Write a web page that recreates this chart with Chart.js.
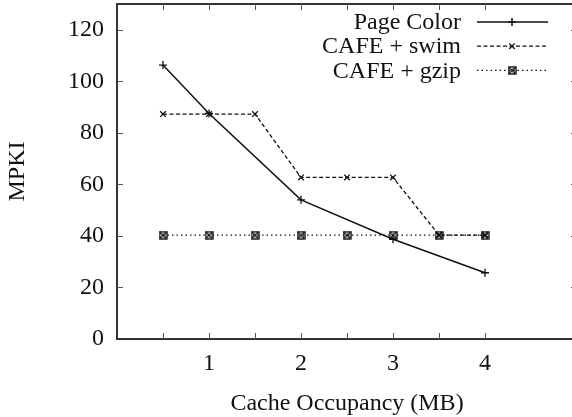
<!DOCTYPE html>
<html>
<head>
<meta charset="utf-8">
<script src="https://cdn.jsdelivr.net/npm/chart.js@4/dist/chart.umd.min.js"></script>
<style>
    html, body { margin: 0; padding: 0; background: #fff; overflow: hidden; }
</style>
</head>
<body>
<canvas id="myChart" width="580" height="417"></canvas>
<script>
// Valeurs (MPKI en fonction de l'occupation du cache)
const occupancy = [0.5, 1, 1.5, 2, 2.5, 3, 3.5, 4];
const pageColorX = [0.5, 1, 2, 3, 4];
const pageColor = [106.3, 87.5, 54.0, 38.7, 25.7];
const cafeSwim = [87.3, 87.3, 87.3, 62.7, 62.7, 62.7, 40.3, 40.3];
const cafeGzip = [40.3, 40.3, 40.3, 40.3, 40.3, 40.3, 40.3, 40.3];
const seriesLabels = ['Page Color', 'CAFE + swim', 'CAFE + gzip'];
const yTicks = [0, 20, 40, 60, 80, 100, 120];
const xTicks = [1, 2, 3, 4];
const xMinorTicks = [0.5, 1, 1.5, 2, 2.5, 3, 3.5, 4];

const FONT = "'Liberation Serif', 'Times New Roman', serif";
const FONT_SIZE = 24;
const INK = '#111';

// Marqueur "carré + croix" pour la série gzip
const boxCross = document.createElement('canvas');
boxCross.width = 9;
boxCross.height = 9;
(() => {
    const c = boxCross.getContext('2d');
    c.strokeStyle = INK;
    c.lineWidth = 1.4;
    c.strokeRect(1, 1, 7, 7);
    c.beginPath();
    c.moveTo(1, 1); c.lineTo(8, 8);
    c.moveTo(8, 1); c.lineTo(1, 8);
    c.stroke();
})();

const toPoints = (xs, ys) => xs.map((x, i) => ({ x: x, y: ys[i] }));

// Cadre, graduations intérieures et légende à la gnuplot
const framePlugin = {
    id: 'frame',
    afterDraw(chart) {
        const { ctx, chartArea: a, scales } = chart;
        ctx.save();
        ctx.strokeStyle = '#333';
        ctx.lineWidth = 2;
        ctx.strokeRect(a.left, a.top, a.right - a.left, a.bottom - a.top);

        ctx.lineWidth = 1;
        ctx.strokeStyle = '#555';
        ctx.beginPath();
        xMinorTicks.forEach(v => {
            const px = Math.round(scales.x.getPixelForValue(v)) + 0.5;
            ctx.moveTo(px, a.bottom); ctx.lineTo(px, a.bottom - 6);
            ctx.moveTo(px, a.top); ctx.lineTo(px, a.top + 6);
        });
        yTicks.slice(1).forEach(v => {
            const py = Math.round(scales.y.getPixelForValue(v)) + 0.5;
            ctx.moveTo(a.left, py); ctx.lineTo(a.left + 6, py);
            ctx.moveTo(a.right, py); ctx.lineTo(a.right - 6, py);
        });
        ctx.stroke();

        // légende : texte aligné à droite, échantillon de trait à droite
        ctx.font = FONT_SIZE + 'px ' + FONT;
        ctx.textAlign = 'right';
        ctx.textBaseline = 'middle';
        chart.data.datasets.forEach((ds, i) => {
            const y = 22 + i * 24.2;
            ctx.fillStyle = INK;
            ctx.fillText(ds.label, 461, y + 1);
            ctx.strokeStyle = ds.borderColor;
            ctx.lineWidth = ds.borderWidth;
            ctx.setLineDash(ds.borderDash || []);
            ctx.beginPath();
            ctx.moveTo(477, y); ctx.lineTo(548, y);
            ctx.stroke();
            ctx.setLineDash([]);
            Chart.helpers.drawPoint(ctx, {
                pointStyle: ds.pointStyle,
                radius: ds.pointRadius,
                borderWidth: 1.3,
                rotation: 0
            }, 512, y);
        });
        ctx.restore();
    }
};

const ctx = document.getElementById('myChart').getContext('2d');
new Chart(ctx, {
    type: 'line',
    data: {
        datasets: [{
            label: seriesLabels[0],
            data: toPoints(pageColorX, pageColor),
            borderColor: INK,
            backgroundColor: INK,
            borderWidth: 1.5,
            pointStyle: 'cross',
            pointRadius: 4,
            pointBorderWidth: 1.3,
        }, {
            label: seriesLabels[1],
            data: toPoints(occupancy, cafeSwim),
            borderColor: INK,
            backgroundColor: INK,
            borderWidth: 1.3,
            borderDash: [4, 2.5],
            pointStyle: 'crossRot',
            pointRadius: 4,
            pointBorderWidth: 1.3,
        }, {
            label: seriesLabels[2],
            data: toPoints(occupancy, cafeGzip),
            borderColor: INK,
            backgroundColor: INK,
            borderWidth: 1.3,
            borderDash: [1.5, 3],
            pointStyle: boxCross,
            pointRadius: 4,
            pointBorderWidth: 1.3,
        }],
    },
    options: {
        responsive: false,
        animation: false,
        devicePixelRatio: 1,
        // le canevas déborde de la fenêtre : le bord droit du cadre est rogné
        layout: { autoPadding: false, padding: { top: 4, right: 3, left: 0, bottom: 0 } },
        plugins: {
            legend: { display: false },
            tooltip: { enabled: false },
        },
        scales: {
            x: {
                type: 'linear',
                min: 0,
                max: 5,
                afterBuildTicks: scale => { scale.ticks = xTicks.map(v => ({ value: v })); },
                afterFit: scale => {
                    scale.height = 78;
                    scale.paddingLeft = 0;
                    scale.paddingRight = 0;
                },
                grid: { display: false, drawTicks: false },
                border: { display: false },
                ticks: { color: INK, padding: 10, font: { family: FONT, size: FONT_SIZE } },
                title: {
                    display: true,
                    text: 'Cache Occupancy (MB)',
                    color: INK,
                    font: { family: FONT, size: FONT_SIZE },
                    padding: { top: 0, bottom: -1 },
                },
            },
            y: {
                min: 0,
                max: 130,
                afterBuildTicks: scale => { scale.ticks = yTicks.map(v => ({ value: v })); },
                afterFit: scale => {
                    scale.width = 117;
                    scale.paddingTop = 0;
                    scale.paddingBottom = 0;
                },
                grid: { display: false, drawTicks: false },
                border: { display: false },
                ticks: { color: INK, padding: 13, font: { family: FONT, size: FONT_SIZE } },
                title: {
                    display: true,
                    text: 'MPKI',
                    color: INK,
                    font: { family: FONT, size: FONT_SIZE },
                    padding: { top: 3, bottom: 0 },
                },
            },
        },
    },
    plugins: [framePlugin],
});
</script>
</body>
</html>
